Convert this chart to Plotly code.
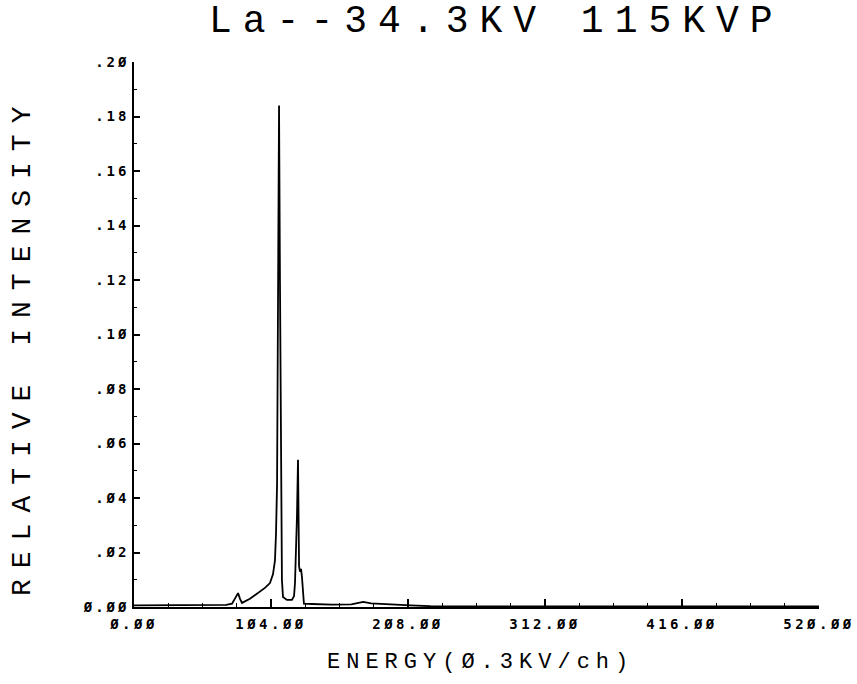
import plotly.graph_objects as go

# channel numbers and relative intensity
channel = [0, 10, 30, 50, 70, 74.4, 76.7, 79, 80.5, 82, 88, 94.1, 99.4, 103.2, 105.5,
           107, 107.8, 108.6, 109.3, 110.1, 110.8, 111.6, 112.3, 113.1, 116.1, 119.9,
           121.5, 122.2, 123, 123.7, 124.5, 125.3, 126, 126.8, 127.5, 128.3, 129,
           135, 150, 165, 170, 174, 180, 190, 210, 225, 260, 300, 350, 400, 450, 500, 520]
intensity = [0.0006, 0.0006, 0.0006, 0.0006, 0.0008, 0.0012, 0.003, 0.0051, 0.003, 0.0015,
             0.003, 0.005, 0.007, 0.0088, 0.012, 0.017, 0.027, 0.045, 0.10, 0.184, 0.12,
             0.04, 0.01, 0.0037, 0.0026, 0.0026, 0.004, 0.0088, 0.02, 0.033, 0.054, 0.015,
             0.013, 0.014, 0.011, 0.006, 0.0012, 0.0011, 0.0009, 0.001, 0.0015, 0.0019,
             0.0013, 0.001, 0.0006, 0.0003, 0.0002, 0.0002, 0.0002, 0.0002, 0.0002,
             0.0002, 0.0002]

x_ticks = [0, 104, 208, 312, 416, 520]
x_tick_text = ["Ø.ØØ", "1Ø4.ØØ", "2Ø8.ØØ", "312.ØØ", "416.ØØ", "52Ø.ØØ"]
y_ticks = [0, 0.02, 0.04, 0.06, 0.08, 0.10, 0.12, 0.14, 0.16, 0.18, 0.20]
y_tick_text = ["Ø.ØØ", ".Ø2", ".Ø4", ".Ø6", ".Ø8", ".1Ø", ".12", ".14", ".16", ".18", ".2Ø"]

title_text = "La--34.3KV 115KVP"
x_title = "ENERGY(Ø.3KV/ch)"
y_title = "RELATIVE INTENSITY"


def spaced(s, px):
    return '<span style="letter-spacing:%spx">%s</span>' % (px, s)


W, H = 857, 684
L, R, T, B = 134, 38, 62, 77

fig = go.Figure()
fig.add_trace(go.Scatter(x=channel, y=intensity, mode="lines",
                         line=dict(color="black", width=1.8), hoverinfo="skip",
                         showlegend=False))

tick_font = dict(family="DejaVu Sans Mono", size=14, color="black", weight="bold")
label_font = dict(family="Liberation Mono", color="black")

fig.update_layout(
    width=W, height=H,
    margin=dict(l=L, r=R, t=T, b=B, autoexpand=False),
    paper_bgcolor="white", plot_bgcolor="white",
    xaxis=dict(range=[0, 520], tickvals=x_ticks,
               ticktext=[spaced(t, 3.5) for t in x_tick_text],
               showgrid=False, zeroline=False, showline=True, linecolor="black",
               linewidth=1.5, ticks="inside", ticklen=8, tickwidth=1.5,
               tickcolor="black", tickfont=tick_font, ticklabelstandoff=3,
               minor=dict(dtick=26, tick0=0, ticks="inside", ticklen=4,
                          tickwidth=1.2, tickcolor="black", showgrid=False)),
    yaxis=dict(range=[0, 0.20], tickvals=y_ticks,
               ticktext=[spaced(t, 3) for t in y_tick_text],
               showgrid=False, zeroline=False, showline=True, linecolor="black",
               linewidth=1.5, ticks="inside", ticklen=6, tickwidth=1.5,
               tickcolor="black", tickfont=tick_font, ticklabelstandoff=0,
               minor=dict(dtick=0.01, tick0=0, ticks="inside", ticklen=3,
                          tickwidth=1.2, tickcolor="black", showgrid=False)),
    annotations=[
        dict(text=spaced(title_text, 11), xref="paper", yref="paper",
             x=(496 - L) / (W - L - R), y=1 + (T - 21) / (H - T - B),
             xanchor="center", yanchor="middle", showarrow=False,
             font=dict(size=38, **label_font)),
        dict(text=spaced(x_title, 6), xref="paper", yref="paper",
             x=(480 - L) / (W - L - R), y=-(662 - (H - B)) / (H - T - B),
             xanchor="center", yanchor="middle", showarrow=False,
             font=dict(size=22, **label_font)),
        dict(text=spaced(y_title, 11), xref="paper", yref="paper", textangle=-90,
             x=-(L - 22) / (W - L - R), y=1 - (346 - T) / (H - T - B),
             xanchor="center", yanchor="middle", showarrow=False,
             font=dict(size=28, **label_font)),
    ],
)

fig.write_html("out.html", config={"displayModeBar": False},
               post_script="document.body.style.margin='0';document.body.style.padding='0';")
